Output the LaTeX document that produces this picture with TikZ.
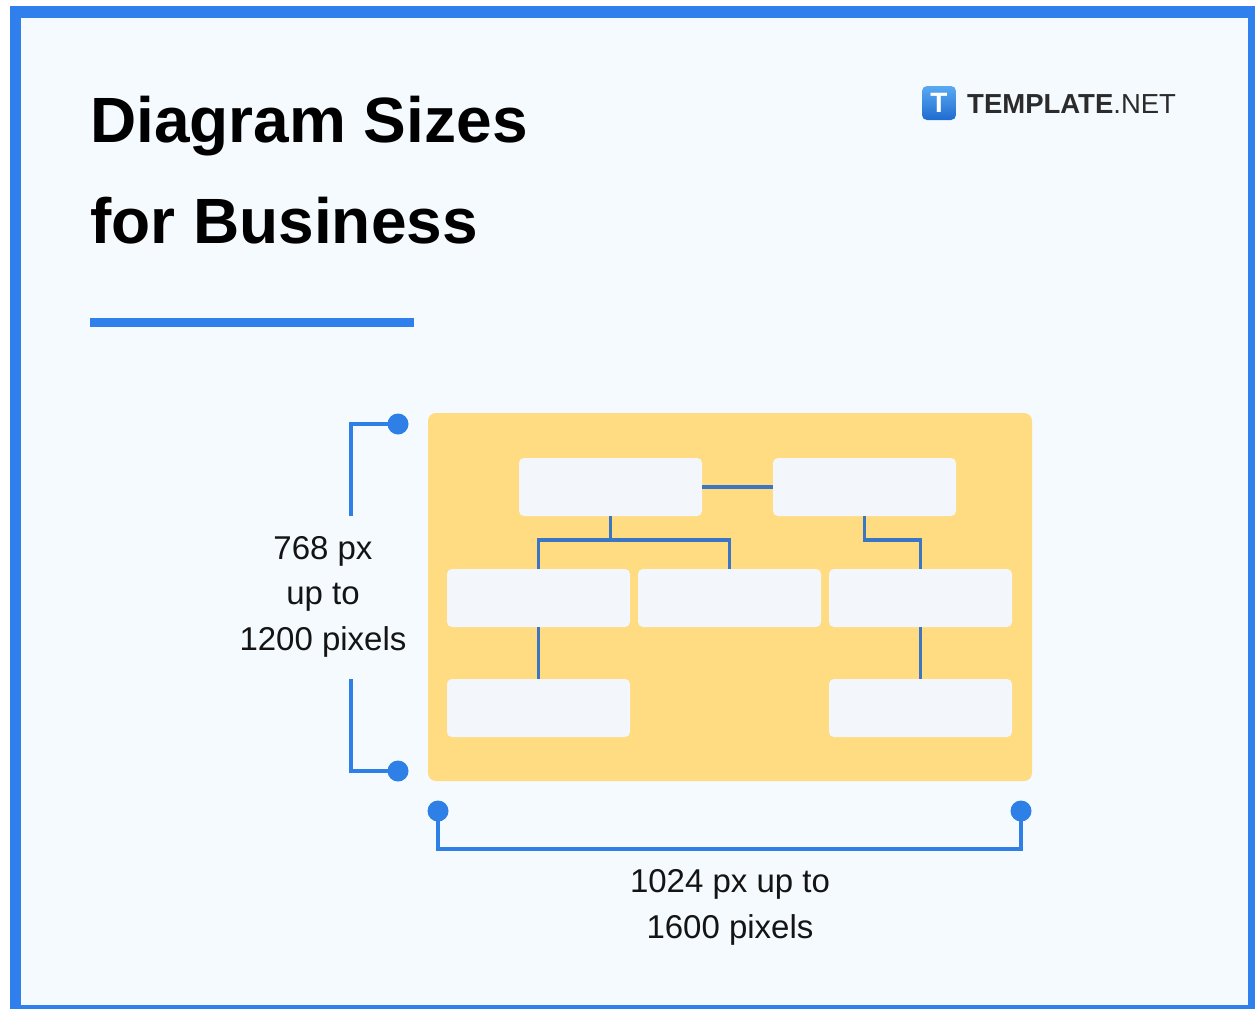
\documentclass[tikz,border=0pt]{standalone}
\usepackage{fontspec}
\setmainfont{Liberation Sans}
\usetikzlibrary{calc}
\definecolor{frameblue}{HTML}{2F80ED}
\definecolor{bgcol}{HTML}{F5FAFE}
\definecolor{panelyellow}{HTML}{FFDC82}
\definecolor{boxfill}{HTML}{F3F7FC}
\definecolor{linkblue}{HTML}{3B76C4}
\definecolor{dimblue}{HTML}{2E7FE6}
\definecolor{textdark}{HTML}{141414}
\definecolor{logogray}{HTML}{2B2B2B}
\definecolor{iconlight}{HTML}{5AAAF2}
\definecolor{icondark}{HTML}{1F6BD0}
\begin{document}
\begin{tikzpicture}[x=1pt,y=-1pt,
  orgbox/.style={draw=none,fill=boxfill,rounded corners=5pt,minimum width=183pt,minimum height=58pt,inner sep=0pt},
  link/.style={draw=linkblue,line width=3.5pt},
  dimline/.style={draw=dimblue,line width=3.5pt},
  dimdot/.style={circle,fill=dimblue,minimum size=21pt,inner sep=0pt},
  lbl/.style={font=\fontsize{33}{45.5}\selectfont,text=textdark,align=center,inner sep=0pt}]
\useasboundingbox (0,0) rectangle (1255,1009);
\fill[white] (0,0) rectangle (1255,1009);
\fill[frameblue] (10,6) rectangle (1255,1009);
\fill[bgcol] (21,18) rectangle (1248,1005);

% title
\node[anchor=base west,align=left,inner sep=0pt,text=black,font=\fontsize{64}{101}\selectfont\bfseries] (title) at (90,243) {Diagram Sizes\\for Business};
\fill[frameblue] (90,318) rectangle (414,327);

% logo
\node[rounded corners=5pt,minimum size=34pt,inner sep=0pt,top color=iconlight,bottom color=icondark,text=white,font=\fontsize{28}{28}\selectfont\bfseries] (icon) at (939,103) {T};
\node[anchor=base west,inner sep=0pt,text=logogray,font=\fontsize{27.5}{28}\selectfont] (brand) at (967,113) {\textbf{TEMPLATE}.NET};

% panel
\node[fill=panelyellow,rounded corners=8pt,minimum width=604pt,minimum height=368pt,inner sep=0pt] (panel) at (730,597) {};

% boxes
\node[orgbox] (b1) at (610.5,487) {};
\node[orgbox] (b2) at (864.5,487) {};
\node[orgbox] (b3) at (538.5,598) {};
\node[orgbox] (b4) at (729.5,598) {};
\node[orgbox] (b5) at (920.5,598) {};
\node[orgbox] (b6) at (538.5,708) {};
\node[orgbox] (b7) at (920.5,708) {};

\coordinate (j1) at (610.5,540);
\coordinate (j2) at (864.5,540);
\draw[link] (b1.east) -- (b2.west);
\draw[link] (b1.south) -- (j1) -| (b3.north);
\draw[link] (j1) -| (b4.north);
\draw[link] (b2.south) -- (j2) -| (b5.north);
\draw[link] (b3.south) -- (b6.north);
\draw[link] (b5.south) -- (b7.north);

% left dimension
\coordinate (lt) at (351,516);
\coordinate (lb) at (351,679);
\draw[dimline] (lt) |- (398,424);
\draw[dimline] (lb) |- (398,771);
\node[dimdot] (dt) at (398,424) {};
\node[dimdot] (db) at (398,771) {};
\node[lbl,anchor=base] (hlabel) at (323,650) {768 px\\up to\\1200 pixels};

% bottom dimension
\coordinate (c1) at (438,849);
\coordinate (c2) at (1021,849);
\draw[dimline] (438,811) -- (c1) -- (c2) -- (1021,811);
\node[dimdot] (dl) at (438,811) {};
\node[dimdot] (dr) at (1021,811) {};
\node[lbl,anchor=base] (wlabel) at (730,938) {1024 px up to\\1600 pixels};
\end{tikzpicture}
\end{document}
